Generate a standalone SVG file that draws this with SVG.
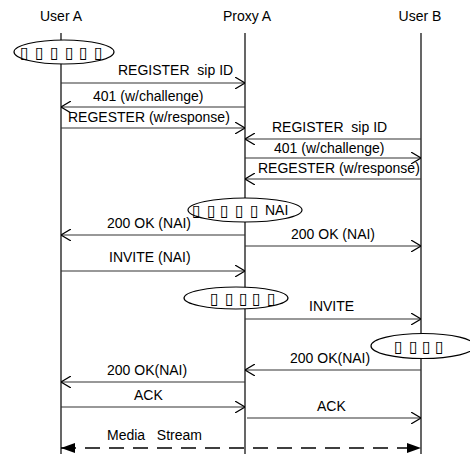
<svg xmlns="http://www.w3.org/2000/svg" width="470" height="454" viewBox="0 0 470 454">
<style>
text{font-family:"Liberation Sans",Arial,sans-serif;font-size:14px;fill:#000;white-space:pre}
.tofu{font-family:"DejaVu Sans",sans-serif;font-size:16px;fill:#000}
.life{stroke:#000;stroke-width:1.2;fill:none}
.msg{stroke:#333;stroke-width:1.2;fill:none;marker-end:url(#open)}
.dash{stroke:#000;stroke-width:1.3;fill:none;stroke-dasharray:15 9}
.ell{fill:#fff;stroke:#000;stroke-width:1.2}
</style>
<defs>
<marker id="open" viewBox="0 0 10 12" refX="10" refY="6" markerWidth="10" markerHeight="12" markerUnits="userSpaceOnUse" orient="auto">
<path d="M0,0 L10,6 L0,12" fill="none" stroke="#000" stroke-width="1.2"/>
</marker>
<marker id="fill" viewBox="0 0 14 10" refX="14" refY="5" markerWidth="14" markerHeight="10" markerUnits="userSpaceOnUse" orient="auto-start-reverse">
<path d="M0,0 L14,5 L0,10 z" fill="#000"/>
</marker>
</defs>
<g id="userA">
<text x="61" y="21" text-anchor="middle">User A</text>
<line class="life" x1="61" y1="33" x2="61" y2="454"/>
</g>
<g id="proxyA">
<text x="247" y="21" text-anchor="middle">Proxy A</text>
<line class="life" x1="245" y1="33" x2="245" y2="454"/>
</g>
<g id="userB">
<text x="420" y="21" text-anchor="middle">User B</text>
<line class="life" x1="421" y1="33" x2="421" y2="454"/>
</g>
<g id="connectors">
<line class="msg" x1="61" y1="83" x2="245" y2="83"/>
<text x="118" y="75" xml:space="preserve">REGISTER  sip ID</text>
<line class="msg" x1="245" y1="107" x2="61" y2="107"/>
<text x="93" y="101">401 (w/challenge)</text>
<line class="msg" x1="61" y1="128" x2="245" y2="128"/>
<text x="68" y="122">REGESTER (w/response)</text>
<line class="msg" x1="421" y1="139" x2="245" y2="139"/>
<text x="272" y="132" xml:space="preserve">REGISTER  sip ID</text>
<line class="msg" x1="245" y1="158" x2="421" y2="158"/>
<text x="274" y="153">401 (w/challenge)</text>
<line class="msg" x1="421" y1="179" x2="245" y2="179"/>
<text x="258" y="173">REGESTER (w/response)</text>
<line class="msg" x1="245" y1="235" x2="61" y2="235"/>
<text x="107" y="228">200 OK (NAI)</text>
<line class="msg" x1="245" y1="246" x2="421" y2="246"/>
<text x="291" y="239">200 OK (NAI)</text>
<line class="msg" x1="61" y1="271" x2="245" y2="271"/>
<text x="109" y="262">INVITE (NAI)</text>
<line class="msg" x1="245" y1="319" x2="421" y2="319"/>
<text x="309" y="311">INVITE</text>
<line class="msg" x1="421" y1="370" x2="245" y2="370"/>
<text x="290" y="363">200 OK(NAI)</text>
<line class="msg" x1="245" y1="382" x2="61" y2="382"/>
<text x="107" y="375">200 OK(NAI)</text>
<line class="msg" x1="61" y1="407" x2="245" y2="407"/>
<text x="134" y="400">ACK</text>
<line class="msg" x1="247" y1="418" x2="421" y2="418"/>
<text x="317" y="411">ACK</text>
<line class="dash" x1="61" y1="448" x2="421" y2="448" marker-start="url(#fill)" marker-end="url(#fill)"/>
<text x="107" y="440" xml:space="preserve">Media   Stream</text>
</g>
<g id="noteA">
<ellipse class="ell" cx="64" cy="52" rx="50" ry="12"/>
<text class="tofu" x="20 35 50 65 79 94" y="58">▯▯▯▯▯▯</text>
</g>
<g id="noteProxy1">
<ellipse class="ell" cx="245" cy="210" rx="57" ry="12"/>
<text class="tofu" x="192 207 220 235 250" y="216">▯▯▯▯▯</text>
<text x="265" y="215">NAI</text>
</g>
<g id="noteProxy2">
<ellipse class="ell" cx="236" cy="298" rx="52" ry="11"/>
<text class="tofu" x="210 225 239 252 267" y="304">▯▯▯▯▯</text>
</g>
<g id="noteB">
<ellipse class="ell" cx="423" cy="346" rx="52" ry="12.5"/>
<text class="tofu" x="394 409 422 435" y="352">▯▯▯▯</text>
</g>
</svg>
